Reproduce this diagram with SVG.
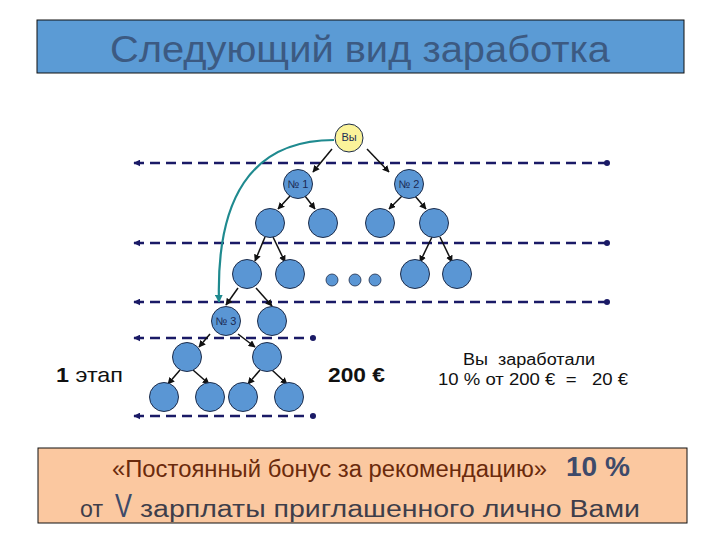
<svg xmlns="http://www.w3.org/2000/svg" width="720" height="540" viewBox="0 0 720 540">
<defs>
<marker id="ah" viewBox="0 0 10 10" refX="9" refY="5" markerWidth="7" markerHeight="7" markerUnits="userSpaceOnUse" orient="auto"><path d="M0,0 L10,5 L0,10 z" fill="#111"/></marker>
<marker id="th" viewBox="0 0 10 10" refX="9" refY="5" markerWidth="8" markerHeight="8" markerUnits="userSpaceOnUse" orient="auto"><path d="M0,0 L10,5 L0,10 z" fill="#1f8a8f"/></marker>
<marker id="la" viewBox="0 0 10 10" refX="1" refY="5" markerWidth="7" markerHeight="7" markerUnits="userSpaceOnUse" orient="auto"><path d="M10,0 L0,5 L10,10 z" fill="#1a1a66"/></marker>
<marker id="rd" viewBox="0 0 10 10" refX="5" refY="5" markerWidth="6" markerHeight="6" markerUnits="userSpaceOnUse"><circle cx="5" cy="5" r="5" fill="#1a1a66"/></marker>
</defs>
<style>
.n{fill:#5a96d4;stroke:#1d2c4a;stroke-width:1}
.y{fill:#fbf39a;stroke:#1d2c4a;stroke-width:1}
.s{fill:#5a96d4;stroke:#1d2c4a;stroke-width:0.8}
.a{stroke:#111;stroke-width:1.5;fill:none;marker-end:url(#ah)}
.d{stroke:#1a1a66;stroke-width:2.5;stroke-dasharray:10 6;fill:none;marker-start:url(#la);marker-end:url(#rd)}
.lbl{font-family:"Liberation Sans",Arial,sans-serif;font-size:11px;fill:#1a2a55;text-anchor:middle}
.t{font-family:"Liberation Sans",Arial,sans-serif}
</style>
<rect width="720" height="540" fill="#fff"/>
<g id="title">
<rect x="37" y="20" width="647" height="53" fill="#5b9bd5" stroke="#111" stroke-width="1"/>
<text x="110" y="62" class="t" font-size="37" fill="#3c5a82" textLength="500" lengthAdjust="spacingAndGlyphs">Следующий вид заработка</text>
</g>
<g id="levels">
<line class="d" x1="134" y1="163" x2="607" y2="163"/>
<line class="d" x1="134" y1="243" x2="607" y2="243"/>
<line class="d" x1="134" y1="302" x2="607" y2="302"/>
<line class="d" x1="134" y1="338" x2="313" y2="338"/>
<line class="d" x1="134" y1="416" x2="313" y2="416"/>
</g>
<g id="connectors">
<line class="a" x1="332" y1="149" x2="313" y2="172"/>
<line class="a" x1="367" y1="149" x2="389" y2="172"/>
<line class="a" x1="290" y1="196" x2="278" y2="209"/>
<line class="a" x1="305" y1="196" x2="315" y2="209"/>
<line class="a" x1="402" y1="196" x2="389" y2="209"/>
<line class="a" x1="415" y1="196" x2="426" y2="209"/>
<line class="a" x1="265" y1="237" x2="255" y2="261"/>
<line class="a" x1="273" y1="237" x2="285" y2="262"/>
<line class="a" x1="432" y1="237" x2="420" y2="262"/>
<line class="a" x1="440" y1="237" x2="452" y2="262"/>
<line class="a" x1="238" y1="288" x2="226" y2="305"/>
<line class="a" x1="256" y1="288" x2="272" y2="306"/>
<line class="a" x1="210" y1="334" x2="199" y2="347"/>
<line class="a" x1="238" y1="334" x2="255" y2="347"/>
<line class="a" x1="180" y1="370" x2="168" y2="384"/>
<line class="a" x1="193" y1="370" x2="209" y2="384"/>
<line class="a" x1="260" y1="370" x2="248" y2="384"/>
<line class="a" x1="272" y1="370" x2="287" y2="384"/>
<path d="M334,140 C250,140 216,200 219,302" stroke="#1f8a8f" stroke-width="2.2" fill="none" marker-end="url(#th)"/>
</g>
<g id="n-vy"><circle class="y" cx="349" cy="138" r="14"/><text class="lbl" x="349" y="141" font-size="9">Вы</text></g>
<g id="n-1"><circle class="n" cx="298" cy="184" r="14.5"/><text class="lbl" x="298" y="188">№ 1</text></g>
<g id="n-2"><circle class="n" cx="409" cy="184" r="14.5"/><text class="lbl" x="409" y="188">№ 2</text></g>
<g id="n-l2a"><circle class="n" cx="270" cy="223" r="14.5"/></g>
<g id="n-l2b"><circle class="n" cx="323" cy="223" r="14.5"/></g>
<g id="n-l2c"><circle class="n" cx="380" cy="223" r="14.5"/></g>
<g id="n-l2d"><circle class="n" cx="434" cy="223" r="14.5"/></g>
<g id="n-l3a"><circle class="n" cx="247" cy="274" r="14.5"/></g>
<g id="n-l3b"><circle class="n" cx="290" cy="274" r="14.5"/></g>
<g id="n-l3c"><circle class="n" cx="415" cy="274" r="14.5"/></g>
<g id="n-l3d"><circle class="n" cx="457" cy="274" r="14.5"/></g>
<g id="dots"><circle class="s" cx="332" cy="280" r="6"/><circle class="s" cx="355" cy="280" r="6"/><circle class="s" cx="375" cy="280" r="6"/></g>
<g id="n-3"><circle class="n" cx="226" cy="321" r="14.5"/><text class="lbl" x="226" y="325">№ 3</text></g>
<g id="n-l4b"><circle class="n" cx="272" cy="321" r="14.5"/></g>
<g id="n-l5a"><circle class="n" cx="187" cy="357" r="14.5"/></g>
<g id="n-l5b"><circle class="n" cx="267" cy="357" r="14.5"/></g>
<g id="n-l6a"><circle class="n" cx="164" cy="397" r="14.5"/></g>
<g id="n-l6b"><circle class="n" cx="210" cy="397" r="14.5"/></g>
<g id="n-l6c"><circle class="n" cx="243" cy="397" r="14.5"/></g>
<g id="n-l6d"><circle class="n" cx="289" cy="397" r="14.5"/></g>
<g id="labels">
<text class="t" x="56" y="382" font-size="21" fill="#111" textLength="67" lengthAdjust="spacingAndGlyphs"><tspan font-weight="bold">1</tspan> этап</text>
<text class="t" x="328" y="382" font-size="21" font-weight="bold" fill="#111" textLength="57" lengthAdjust="spacingAndGlyphs">200 €</text>
<text class="t" x="463" y="365" font-size="16" fill="#111" textLength="132" lengthAdjust="spacingAndGlyphs" xml:space="preserve">Вы  заработали</text>
<text class="t" x="438" y="385" font-size="16" fill="#111" textLength="190" lengthAdjust="spacingAndGlyphs" xml:space="preserve">10 % от 200 €  =   20 €</text>
</g>
<g id="bonus">
<rect x="38" y="448" width="649" height="75" fill="#fbc8a0" stroke="#111" stroke-width="1"/>
<text class="t" x="112" y="477" font-size="23" fill="#6a2a0c" textLength="435" lengthAdjust="spacingAndGlyphs">«Постоянный бонус за рекомендацию»</text>
<text class="t" x="566" y="476" font-size="28" font-weight="bold" fill="#3e4a6a" textLength="64" lengthAdjust="spacingAndGlyphs">10 %</text>
<text class="t" x="80" y="517" font-size="23" fill="#3e3e4a" textLength="23" lengthAdjust="spacingAndGlyphs">от</text>
<text class="t" x="115" y="517" font-size="34" fill="#3e4a6a" textLength="17" lengthAdjust="spacingAndGlyphs">V</text>
<text class="t" x="140" y="517" font-size="23" fill="#3e3e4a" textLength="500" lengthAdjust="spacingAndGlyphs">зарплаты приглашенного лично Вами</text>
</g>
</svg>
